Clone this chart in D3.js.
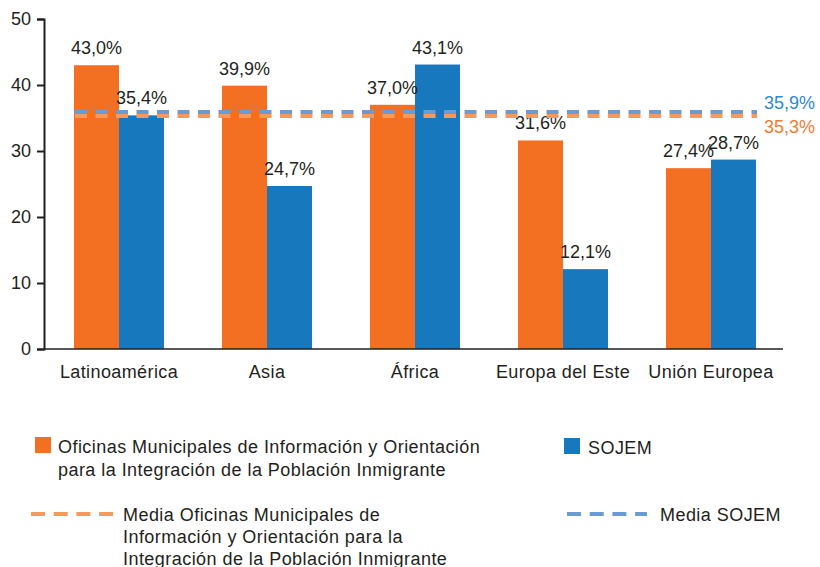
<!DOCTYPE html>
<html>
<head>
<meta charset="utf-8">
<script src="https://cdn.jsdelivr.net/npm/d3@7"></script>
<style>
  body { margin: 0; background: #fff; }
  svg text { font-family: "Liberation Sans", Arial, sans-serif; fill: #231f20; }
</style>
</head>
<body>
<div id="wrapper"></div>
<script>
const categories = ["Latinoamérica", "Asia", "África", "Europa del Este", "Unión Europea"];
const oficinasValues = [43.0, 39.9, 37.0, 31.6, 27.4];
const sojemValues = [35.4, 24.7, 43.1, 12.1, 28.7];
const seriesNames = ["oficinas", "sojem"];
const means = [35.3, 35.9];
const yTicks = [0, 10, 20, 30, 40, 50];

const fmt = (v) => v.toFixed(1).replace(".", ",") + "%";

const dimensions = { width: 820, height: 567 };
const barColors = { oficinas: "#f37022", sojem: "#1878be" };
const meanColors = { oficinas: "#f7995a", sojem: "#6b9bd3" };
const meanLabelColors = { oficinas: "#f47a2e", sojem: "#2a8ad2" };

const svg = d3.select("#wrapper")
  .append("svg")
  .attr("width", dimensions.width)
  .attr("height", dimensions.height);

const yScale = d3.scaleLinear().domain([0, 50]).range([349, 19]);
const xScale = d3.scaleBand().domain(categories).range([45, 785]);
const x1 = d3.scaleBand().domain(seriesNames).range([0, 90]);

const data = categories.map((c, i) => ({
  category: c,
  values: [
    { key: "oficinas", value: oficinasValues[i] },
    { key: "sojem", value: sojemValues[i] },
  ],
}));

// bars
const groups = svg.append("g")
  .selectAll("g")
  .data(data)
  .enter()
  .append("g")
  .attr("transform", (d) => `translate(${xScale(d.category) + xScale.bandwidth() / 2 - 45},0)`);

groups.selectAll("rect")
  .data((d) => d.values)
  .enter()
  .append("rect")
  .attr("x", (d) => x1(d.key))
  .attr("width", x1.bandwidth())
  .attr("y", (d) => yScale(d.value))
  .attr("height", (d) => yScale(0) - yScale(d.value))
  .attr("fill", (d) => barColors[d.key]);

// mean lines
const lineX0 = 75, lineX1 = 757;
svg.append("g")
  .selectAll("line")
  .data(seriesNames.map((k, i) => ({ key: k, value: means[i] })).reverse())
  .enter()
  .append("line")
  .attr("x1", lineX0)
  .attr("x2", lineX1)
  .attr("y1", (d) => yScale(d.value))
  .attr("y2", (d) => yScale(d.value))
  .attr("stroke", (d) => meanColors[d.key])
  .attr("stroke-width", 4)
  .attr("stroke-dasharray", "12,8.5");

groups.selectAll("text")
  .data((d) => d.values)
  .enter()
  .append("text")
  .attr("x", (d) => x1(d.key) + x1.bandwidth() / 2)
  .attr("y", (d) => yScale(d.value) - 11)
  .attr("text-anchor", "middle")
  .style("font-size", "18px")
  .text((d) => fmt(d.value));

svg.append("text")
  .attr("x", 764)
  .attr("y", yScale(means[1]) - 3)
  .style("font-size", "18px")
  .style("fill", meanLabelColors.sojem)
  .text(fmt(means[1]));
svg.append("text")
  .attr("x", 764)
  .attr("y", yScale(means[0]) + 17)
  .style("font-size", "18px")
  .style("fill", meanLabelColors.oficinas)
  .text(fmt(means[0]));

// axes
const yAxis = svg.append("g")
  .attr("transform", "translate(44,0)")
  .call(d3.axisLeft(yScale).tickValues(yTicks).tickSize(7).tickPadding(6));
yAxis.select(".domain").attr("stroke", "#231f20").attr("stroke-width", 2);
yAxis.selectAll(".tick line").attr("stroke", "#231f20").attr("stroke-width", 2);
yAxis.selectAll(".tick text")
  .style("font-size", "18px")
  .style("font-family", "Liberation Sans, Arial, sans-serif")
  .attr("fill", "#231f20");

const xAxis = svg.append("g")
  .attr("transform", `translate(0,${yScale(0)})`)
  .call(d3.axisBottom(xScale).tickSize(0).tickPadding(16));
xAxis.select(".domain").attr("stroke", "#231f20").attr("stroke-width", 1.5)
  .attr("d", "M44,0H783");
xAxis.selectAll(".tick text")
  .style("font-size", "18px")
  .style("letter-spacing", "0.4px")
  .style("font-family", "Liberation Sans, Arial, sans-serif")
  .attr("fill", "#231f20");

// legend
const legend = svg.append("g").style("font-size", "18px").style("letter-spacing", "0.45px");

legend.append("rect").attr("x", 35).attr("y", 437).attr("width", 16).attr("height", 16).attr("fill", barColors.oficinas);
legend.append("text").attr("x", 58).attr("y", 453)
  .selectAll("tspan")
  .data(["Oficinas Municipales de Información y Orientación", "para la Integración de la Población Inmigrante"])
  .enter().append("tspan")
  .attr("x", 58).attr("dy", (d, i) => (i === 0 ? 0 : 23))
  .text((d) => d);

legend.append("rect").attr("x", 564).attr("y", 438).attr("width", 16).attr("height", 16).attr("fill", barColors.sojem);
legend.append("text").attr("x", 588).attr("y", 454).text("SOJEM");

legend.append("line").attr("x1", 31).attr("x2", 113).attr("y1", 514).attr("y2", 514)
  .attr("stroke", meanColors.oficinas).attr("stroke-width", 4).attr("stroke-dasharray", "14,8.7");
legend.append("text").attr("x", 123).attr("y", 521)
  .selectAll("tspan")
  .data(["Media Oficinas Municipales de", "Información y Orientación para la", "Integración de la Población Inmigrante"])
  .enter().append("tspan")
  .attr("x", 123).attr("dy", (d, i) => (i === 0 ? 0 : 22))
  .text((d) => d);

legend.append("line").attr("x1", 567).attr("x2", 647).attr("y1", 514).attr("y2", 514)
  .attr("stroke", meanColors.sojem).attr("stroke-width", 4).attr("stroke-dasharray", "14,8.7");
legend.append("text").attr("x", 660).attr("y", 521).text("Media SOJEM");
</script>
</body>
</html>
